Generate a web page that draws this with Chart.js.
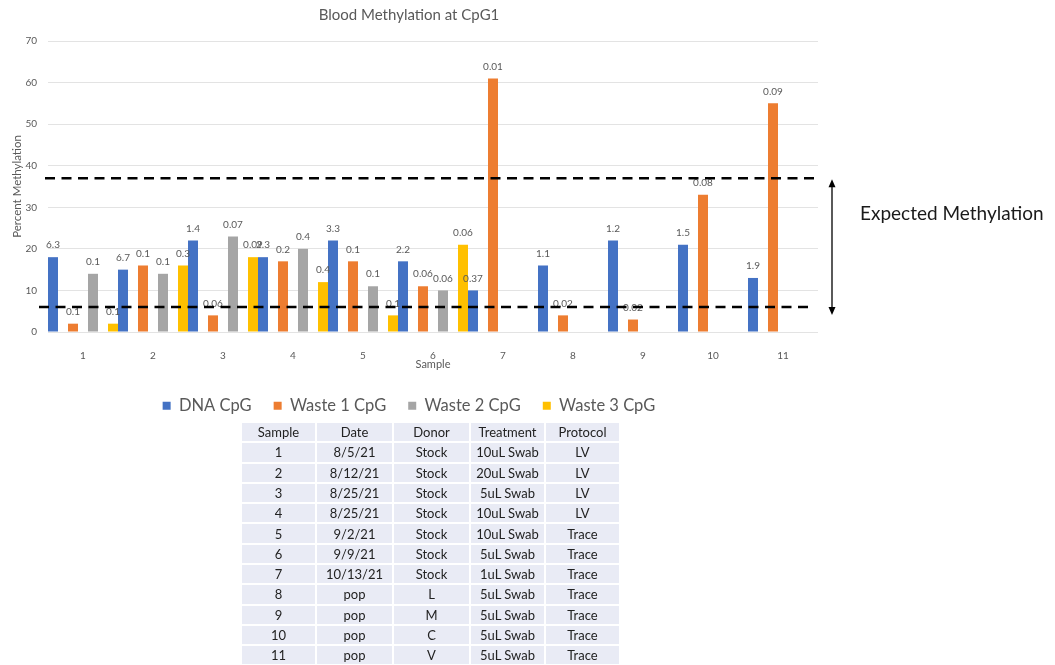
<!DOCTYPE html>
<html>
<head>
<meta charset="utf-8">
<script src="https://cdn.jsdelivr.net/npm/chart.js@4.4.1/dist/chart.umd.min.js"></script>
<style>
  html, body { margin: 0; padding: 0; background: #ffffff; }
  #wrap { position: absolute; left: 0; top: 0; width: 1055px; height: 424px; }
  #info { position: absolute; left: 240px; top: 421px; border-collapse: collapse;
          font-family: Lato, "Liberation Sans", sans-serif; font-size: 13px; color: #222; }
  #info td, #info th { background: #e9ebf5; border: 2px solid #ffffff; height: 16px; padding: 1.15px 0;
          text-align: center; font-weight: normal; line-height: 16px; }
</style>
</head>
<body>
<div id="wrap"><canvas id="c" width="1055" height="424"></canvas></div>
<table id="info"></table>
<script>
// ---- data ----
const samples = ['1','2','3','4','5','6','7','8','9','10','11'];
const dnaCpG    = [18, 15, 22, 18, 22, 17, 10, 16, 22, 21, 13];
const waste1CpG = [2, 16, 4, 17, 17, 11, 61, 4, 3, 33, 55];
const waste2CpG = [14, 14, 23, 20, 11, 10, null, null, null, null, null];
const waste3CpG = [2, 16, 18, 12, 4, 21, null, null, null, null, null];
const dnaLabels    = ['6.3','6.7','1.4','2.3','3.3','2.2','0.37','1.1','1.2','1.5','1.9'];
const waste1Labels = ['0.1','0.1','0.06','0.2','0.1','0.06','0.01','0.02','0.02','0.08','0.09'];
const waste2Labels = ['0.1','0.1','0.07','0.4','0.1','0.06','','','','',''];
const waste3Labels = ['0.1','0.3','0.09','0.4','0.1','0.06','','','','',''];
const expectedHigh = 37;
const expectedLow = 6;
const yTicksMax = 70;
const yTickStep = 10;

const tableHeader = ['Sample','Date','Donor','Treatment','Protocol'];
const tableDates = ['8/5/21','8/12/21','8/25/21','8/25/21','9/2/21','9/9/21','10/13/21','pop','pop','pop','pop'];
const tableDonors = ['Stock','Stock','Stock','Stock','Stock','Stock','Stock','L','M','C','V'];
const tableTreatments = ['10uL Swab','20uL Swab','5uL Swab','10uL Swab','10uL Swab','5uL Swab','1uL Swab','5uL Swab','5uL Swab','5uL Swab','5uL Swab'];
const tableProtocols = ['LV','LV','LV','LV','Trace','Trace','Trace','Trace','Trace','Trace','Trace'];

// ---- table ----
(function buildTable(){
  const t = document.getElementById('info');
  const widths = [73, 75, 75, 73, 73];
  let html = '<tr>' + tableHeader.map((h,i)=>'<th style="width:'+widths[i]+'px">'+h+'</th>').join('') + '</tr>';
  samples.forEach((s,i)=>{
    html += '<tr><td>'+s+'</td><td>'+tableDates[i]+'</td><td>'+tableDonors[i]+'</td><td>'+tableTreatments[i]+'</td><td>'+tableProtocols[i]+'</td></tr>';
  });
  t.innerHTML = html;
})();

const FONT = 'Lato, "Liberation Sans", sans-serif';
const labelSets = [dnaLabels, waste1Labels, waste2Labels, waste3Labels];

const labelPlugin = {
  id: 'barLabels',
  afterDatasetsDraw(chart) {
    const ctx = chart.ctx;
    ctx.save();
    ctx.font = '10px ' + FONT;
    ctx.fillStyle = '#595959';
    ctx.textAlign = 'center';
    ctx.textBaseline = 'middle';
    chart.data.datasets.forEach((ds, di) => {
      const meta = chart.getDatasetMeta(di);
      meta.data.forEach((bar, i) => {
        const v = ds.data[i];
        const txt = labelSets[di][i];
        if (v === null || v === undefined || !txt) return;
        ctx.fillText(txt, bar.x, bar.y - 12);
      });
    });
    ctx.restore();
  }
};

const annotPlugin = {
  id: 'expected',
  afterDraw(chart) {
    const ctx = chart.ctx;
    const y = chart.scales.y;
    const a = chart.chartArea;
    const yHi = y.getPixelForValue(expectedHigh);
    const yLo = y.getPixelForValue(expectedLow);
    ctx.save();
    ctx.strokeStyle = '#000000';
    ctx.lineWidth = 2.5;
    ctx.setLineDash([10, 6.5]);
    ctx.beginPath();
    ctx.moveTo(a.left - 3, yHi); ctx.lineTo(a.right, yHi);
    ctx.moveTo(a.left - 9, yLo); ctx.lineTo(a.right - 6, yLo);
    ctx.stroke();
    // double arrow
    ctx.setLineDash([]);
    ctx.lineWidth = 1.3;
    const ax = a.right + 14;
    const top = yHi + 1, bot = yLo + 8;
    ctx.beginPath();
    ctx.moveTo(ax, top + 4); ctx.lineTo(ax, bot - 4);
    ctx.stroke();
    ctx.fillStyle = '#000000';
    ctx.beginPath();
    ctx.moveTo(ax, top); ctx.lineTo(ax - 3.5, top + 8); ctx.lineTo(ax + 3.5, top + 8); ctx.closePath(); ctx.fill();
    ctx.beginPath();
    ctx.moveTo(ax, bot); ctx.lineTo(ax - 3.5, bot - 8); ctx.lineTo(ax + 3.5, bot - 8); ctx.closePath(); ctx.fill();
    // text
    ctx.font = '19px ' + FONT;
    ctx.fillStyle = '#1a1a1a';
    ctx.textAlign = 'left';
    ctx.textBaseline = 'middle';
    ctx.fillText('Expected Methylation', a.right + 42, yHi + 36);
    ctx.restore();
  }
};

new Chart(document.getElementById('c'), {
  type: 'bar',
  data: {
    labels: samples,
    datasets: [
      { label: 'DNA CpG', data: dnaCpG, backgroundColor: '#4472c4' },
      { label: 'Waste 1 CpG', data: waste1CpG, backgroundColor: '#ed7d31' },
      { label: 'Waste 2 CpG', data: waste2CpG, backgroundColor: '#a5a5a5' },
      { label: 'Waste 3 CpG', data: waste3CpG, backgroundColor: '#ffc000' }
    ]
  },
  options: {
    responsive: false,
    animation: false,
    devicePixelRatio: 1,
    categoryPercentage: 8 / 7,
    barPercentage: 0.5,
    layout: { padding: { left: 0, right: 237, top: 0, bottom: 0 } },
    plugins: {
      title: {
        display: true,
        text: 'Blood Methylation at CpG1',
        color: '#595959',
        font: { family: FONT, size: 15, weight: 'normal' },
        padding: { top: 6, bottom: 17 }
      },
      legend: {
        position: 'bottom',
        labels: {
          color: '#595959',
          font: { family: FONT, size: 16.5 },
          boxWidth: 8,
          boxHeight: 8,
          padding: 22
        }
      },
      tooltip: { enabled: false }
    },
    scales: {
      x: {
        grid: { display: false },
        border: { display: false },
        ticks: { color: '#595959', font: { family: FONT, size: 10 }, padding: 10 },
        title: { display: true, text: 'Sample', color: '#595959',
                 font: { family: FONT, size: 11 }, padding: { top: 0, bottom: 4 } },
        afterFit(scale) { scale.height = 43.5; }
      },
      y: {
        min: 0,
        max: yTicksMax,
        ticks: { stepSize: yTickStep, color: '#595959', font: { family: FONT, size: 10 }, padding: 11 },
        grid: { color: '#e3e3e3', drawTicks: false, lineWidth: 1 },
        border: { display: false },
        title: { display: true, text: 'Percent Methylation', color: '#595959',
                 font: { family: FONT, size: 11.5 }, padding: { top: 10, bottom: 0 } },
        afterFit(scale) { scale.width = 48; }
      }
    }
  },
  plugins: [labelPlugin, annotPlugin]
});
</script>
</body>
</html>
